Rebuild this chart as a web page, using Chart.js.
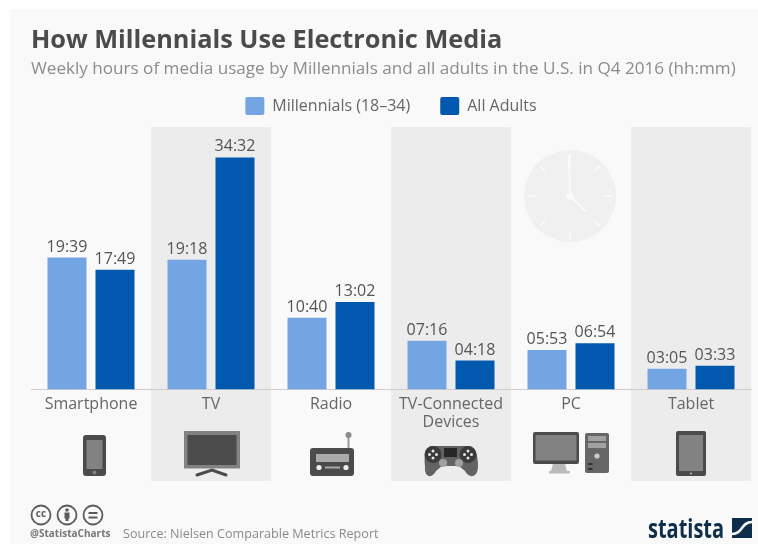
<!DOCTYPE html>
<html>
<head>
<meta charset="utf-8">
<title>How Millennials Use Electronic Media</title>
<script src="https://cdn.jsdelivr.net/npm/chart.js@4/dist/chart.umd.min.js"></script>
<style>
  html, body { margin: 0; padding: 0; background: #fff; }
  canvas { display: block; }
</style>
</head>
<body>
<canvas id="myChart" width="758" height="544"></canvas>
<script>
const categories = ['Smartphone', 'TV', 'Radio', ['TV-Connected', 'Devices'], 'PC', 'Tablet']
const millennials = ['19:39', '19:18', '10:40', '07:16', '05:53', '03:05']
const allAdults = ['17:49', '34:32', '13:02', '04:18', '06:54', '03:33']
const seriesNames = ['Millennials (18–34)', 'All Adults']
const shadedBands = [1, 3, 5]

const FONT = '"Open Sans", sans-serif'
const DARK = '#4b4b4b'
const MID = '#828282'

const toHours = (value) => {
  const [h, m] = value.split(':').map(Number)
  return h + m / 60
}

const roundRect = (ctx, x, y, w, h, r, color) => {
  ctx.fillStyle = color
  ctx.beginPath()
  ctx.roundRect(x, y, w, h, r)
  ctx.fill()
}

const circle = (ctx, x, y, r, color) => {
  ctx.fillStyle = color
  ctx.beginPath()
  ctx.arc(x, y, r, 0, Math.PI * 2)
  ctx.fill()
}

// small device icons under the axis, each one relative to its category centre
const icons = [
  function phone(ctx, c) {
    roundRect(ctx, c - 8, 435, 23, 41, 3, DARK)
    ctx.fillStyle = MID
    ctx.fillRect(c - 4.5, 440, 16, 29)
    circle(ctx, c + 3.5, 472.5, 2, MID)
  },
  function tv(ctx, c) {
    ctx.fillStyle = MID
    ctx.fillRect(c - 27, 431, 56, 37.5)
    ctx.fillStyle = DARK
    ctx.fillRect(c - 23.5, 435, 49, 30)
    ctx.strokeStyle = DARK
    ctx.lineWidth = 3
    ctx.lineCap = 'round'
    ctx.beginPath()
    ctx.moveTo(c - 14, 475)
    ctx.lineTo(c + 1, 470)
    ctx.lineTo(c + 15, 475)
    ctx.stroke()
  },
  function radio(ctx, c) {
    ctx.fillStyle = '#999'
    ctx.fillRect(c + 16.5, 436, 2, 13)
    circle(ctx, c + 17.5, 435, 3, '#8a8a8a')
    roundRect(ctx, c - 21, 448, 44, 28, 3, DARK)
    ctx.fillStyle = '#aaa'
    ctx.fillRect(c - 15, 454, 33, 8)
    circle(ctx, c - 12, 467.5, 2.6, '#eee')
    circle(ctx, c + 15, 467.5, 2.6, '#eee')
    ctx.fillStyle = '#aaa'
    ctx.fillRect(c - 6, 466.5, 15, 2)
  },
  function gamepad(ctx, c) {
    ctx.fillStyle = '#636363'
    ctx.beginPath()
    ctx.moveTo(c - 18, 446)
    ctx.lineTo(c + 17, 446)
    ctx.bezierCurveTo(c + 25, 446, c + 27, 456, c + 27, 466)
    ctx.bezierCurveTo(c + 27, 478, c + 18, 479, c + 14, 471)
    ctx.lineTo(c + 8, 466)
    ctx.lineTo(c - 9, 466)
    ctx.lineTo(c - 15, 471)
    ctx.bezierCurveTo(c - 19, 479, c - 27, 478, c - 26, 466)
    ctx.bezierCurveTo(c - 27, 456, c - 26, 446, c - 18, 446)
    ctx.fill()
    circle(ctx, c - 18, 454.5, 8.5, '#3a3a3a')
    circle(ctx, c + 17, 454.5, 8.5, '#3a3a3a')
    circle(ctx, c - 8, 463, 4, '#a0a0a0')
    circle(ctx, c + 8, 463, 4, '#a0a0a0')
    ctx.fillStyle = '#262626'
    ctx.fillRect(c - 7, 448, 13, 9)
    const dots = [[-3.5, 0], [3.5, 0], [0, -3.5], [0, 3.5]]
    dots.forEach(([dx, dy]) => {
      circle(ctx, c - 18 + dx, 454.5 + dy, 1.5, '#e6e6e6')
      circle(ctx, c + 17 + dx, 454.5 + dy, 1.5, '#e6e6e6')
    })
  },
  function pc(ctx, c) {
    ctx.fillStyle = '#bbb'
    ctx.fillRect(c - 22, 471, 21, 2.5)
    ctx.beginPath()
    ctx.moveTo(c - 18, 464)
    ctx.lineTo(c - 6, 464)
    ctx.lineTo(c - 4, 471)
    ctx.lineTo(c - 20, 471)
    ctx.fill()
    roundRect(ctx, c - 38, 432, 46, 32, 2, DARK)
    ctx.fillStyle = MID
    ctx.fillRect(c - 35.5, 435, 41, 25.5)
    roundRect(ctx, c + 14, 433, 24, 40, 2, '#666')
    ctx.fillStyle = '#a2a2a2'
    ctx.fillRect(c + 17, 436, 18, 5)
    ctx.fillRect(c + 17, 443, 18, 5)
    circle(ctx, c + 26, 456, 2.6, '#ccc')
    ctx.fillStyle = '#333'
    ctx.fillRect(c + 17, 463, 4.5, 2)
    ctx.fillRect(c + 17, 468, 4.5, 2)
  },
  function tablet(ctx, c) {
    roundRect(ctx, c - 15, 431, 30, 45, 2, DARK)
    ctx.fillStyle = MID
    ctx.fillRect(c - 12, 435, 24, 36)
    circle(ctx, c, 473.5, 1, '#bbb')
  },
]

const drawClock = (ctx, x, y, r) => {
  circle(ctx, x, y, r, '#f0f0f0')
  ctx.strokeStyle = '#fbfbfb'
  ctx.lineCap = 'round'
  ctx.lineWidth = 1.6
  for (let i = 0; i < 8; i++) {
    const a = (i * Math.PI) / 4
    ctx.beginPath()
    ctx.moveTo(x + Math.sin(a) * (r - 11), y - Math.cos(a) * (r - 11))
    ctx.lineTo(x + Math.sin(a) * (r - 4), y - Math.cos(a) * (r - 4))
    ctx.stroke()
  }
  ctx.lineWidth = 2
  ctx.beginPath()
  ctx.moveTo(x - 1, y - 40)
  ctx.lineTo(x, y)
  ctx.lineTo(x + 15, y + 15)
  ctx.stroke()
  circle(ctx, x, y, 3.5, '#fbfbfb')
}

const drawHeader = (ctx) => {
  ctx.textAlign = 'left'
  ctx.textBaseline = 'middle'
  ctx.fillStyle = DARK
  ctx.font = `bold 25.3px ${FONT}`
  ctx.fillText('How Millennials Use Electronic Media', 31, 41)
  ctx.fillStyle = '#8c8c8c'
  ctx.font = `17.1px ${FONT}`
  ctx.fillText('Weekly hours of media usage by Millennials and all adults in the U.S. in Q4 2016 (hh:mm)', 31, 69)
}

const drawFooter = (ctx) => {
  // licence badges
  const badges = [41, 67, 93]
  badges.forEach((x) => {
    ctx.strokeStyle = '#5c5c5c'
    ctx.lineWidth = 1.8
    ctx.beginPath()
    ctx.arc(x, 515, 9.5, 0, Math.PI * 2)
    ctx.stroke()
  })
  ctx.fillStyle = '#5c5c5c'
  ctx.textAlign = 'center'
  ctx.textBaseline = 'middle'
  ctx.font = `bold 10px ${FONT}`
  ctx.fillText('cc', 41, 514.5)
  circle(ctx, 67, 510, 1.8, '#5c5c5c')
  ctx.fillRect(64.5, 512.5, 5, 6)
  ctx.fillRect(65.5, 518, 3, 3)
  ctx.fillRect(88.5, 512, 9, 2)
  ctx.fillRect(88.5, 516.5, 9, 2)

  ctx.textAlign = 'left'
  ctx.fillStyle = '#777'
  ctx.font = `bold 10px ${FONT}`
  ctx.fillText('@StatistaCharts', 30, 534.5)
  ctx.fillStyle = '#8a8a8a'
  ctx.font = `12.6px ${FONT}`
  ctx.fillText('Source: Nielsen Comparable Metrics Report', 123, 534)

  // logo wordmark and square with its white swoosh
  ctx.save()
  ctx.fillStyle = '#0f2e4c'
  ctx.font = `bold 27px ${FONT}`
  ctx.textBaseline = 'alphabetic'
  ctx.translate(648, 537.5)
  ctx.scale(0.74, 1)
  ctx.fillText('statista', 0, 0)
  ctx.restore()
  ctx.fillStyle = '#0f2e4c'
  ctx.fillRect(732, 518, 20, 20)
  ctx.strokeStyle = '#f9f9f9'
  ctx.lineWidth = 2.6
  ctx.lineCap = 'butt'
  ctx.beginPath()
  ctx.moveTo(732, 534)
  ctx.bezierCurveTo(743, 534, 741, 522, 752, 522)
  ctx.stroke()
}

const backdropPlugin = {
  id: 'backdrop',
  beforeDraw(chart) {
    const { ctx, scales: { x } } = chart
    const step = x.getPixelForTick(1) - x.getPixelForTick(0)
    ctx.save()
    ctx.fillStyle = '#f9f9f9'
    ctx.fillRect(10, 9, 748, 535)
    ctx.fillStyle = '#ececec'
    shadedBands.forEach((i) => {
      ctx.fillRect(x.getPixelForTick(i) - step / 2, 127, step, 354)
    })
    drawClock(ctx, 570, 196, 46)
    drawHeader(ctx)
    ctx.restore()
  },
  afterDraw(chart) {
    const { ctx, scales: { x } } = chart
    ctx.save()
    icons.forEach((draw, i) => draw(ctx, x.getPixelForTick(i)))
    drawFooter(ctx)
    ctx.restore()
  },
}

// hh:mm labels above each bar
const valueLabelPlugin = {
  id: 'valueLabels',
  afterDatasetsDraw(chart) {
    const { ctx } = chart
    ctx.save()
    ctx.fillStyle = '#555'
    ctx.font = `16px ${FONT}`
    ctx.textAlign = 'center'
    ctx.textBaseline = 'middle'
    chart.data.datasets.forEach((dataset, d) => {
      chart.getDatasetMeta(d).data.forEach((bar, i) => {
        ctx.fillText(dataset.labelsText[i], bar.x, bar.y - 10.5)
      })
    })
    ctx.restore()
  },
}

new Chart(document.getElementById('myChart'), {
  type: 'bar',
  data: {
    labels: categories,
    datasets: [
      {
        label: seriesNames[0],
        labelsText: millennials,
        data: millennials.map(toHours),
        backgroundColor: '#74a5e3',
      },
      {
        label: seriesNames[1],
        labelsText: allAdults,
        data: allAdults.map(toHours),
        backgroundColor: '#0059ae',
      },
    ],
  },
  options: {
    responsive: false,
    animation: false,
    categoryPercentage: 0.8,
    barPercentage: 0.8125,
    layout: { padding: { left: 31, right: 7, top: 67, bottom: 0 } },
    scales: {
      x: {
        grid: { drawOnChartArea: false, drawTicks: false },
        border: { color: '#cfcfcf', width: 1 },
        ticks: {
          color: '#666',
          font: { family: FONT, size: 16, lineHeight: 1.14 },
          padding: 6,
          autoSkip: false,
          maxRotation: 0,
        },
        afterFit(scale) {
          scale.height = 154.5
        },
      },
      y: { display: false, min: 0, max: 39.36 },
    },
    plugins: {
      tooltip: { enabled: false },
      legend: {
        position: 'top',
        labels: {
          color: '#666',
          font: { family: FONT, size: 16 },
          boxWidth: 19,
          boxHeight: 18,
          useBorderRadius: true,
          borderRadius: 2,
          padding: 30,
        },
      },
    },
  },
  plugins: [backdropPlugin, valueLabelPlugin],
})
</script>
</body>
</html>
